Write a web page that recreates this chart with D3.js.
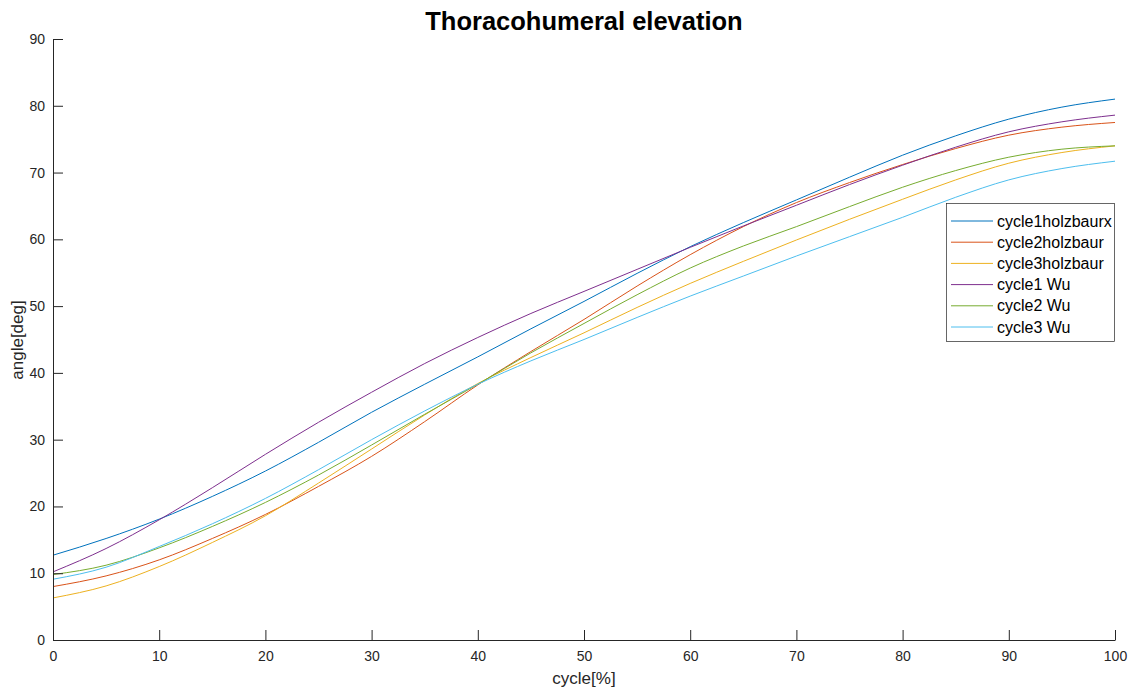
<!DOCTYPE html>
<html>
<head>
<meta charset="utf-8">
<script src="https://cdn.jsdelivr.net/npm/d3@7"></script>
<style>
  body { margin: 0; background: #fff; }
  svg { display: block; font-family: "Liberation Sans", Arial, sans-serif; }
</style>
</head>
<body>
<svg id="chart" width="1133" height="691"></svg>
<script>
const cycle = [0,5,10,15,20,25,30,35,40,45,50,55,60,65,70,75,80,85,90,95,100];
const seriesNames = ["cycle1holzbaurx","cycle2holzbaur","cycle3holzbaur","cycle1 Wu","cycle2 Wu","cycle3 Wu"];
const seriesColors = ["#0072BD","#D95319","#EDB120","#7E2F8E","#77AC30","#4DBEEE"];
const cycle1holzbaurx = [12.7,15.2,18.1,21.5,25.3,29.6,34.1,38.3,42.4,46.6,50.7,54.9,58.9,62.5,65.9,69.3,72.6,75.5,78.0,79.8,81.0];
const cycle2holzbaur  = [8.0,9.6,12.0,15.2,18.8,23.0,27.5,32.7,38.2,43.2,48.0,53.0,57.7,61.9,65.5,68.5,71.2,73.6,75.6,76.8,77.5];
const cycle3holzbaur  = [6.3,8.1,11.0,14.6,18.6,23.5,28.6,33.7,38.4,42.3,46.0,49.8,53.4,56.7,59.9,63.0,66.0,68.9,71.4,73.0,74.0];
const cycle1Wu        = [10.2,13.7,18.0,22.8,27.8,32.6,37.1,41.4,45.3,48.9,52.2,55.5,58.8,62.0,65.1,68.2,71.1,73.8,76.1,77.6,78.6];
const cycle2Wu        = [9.8,11.2,13.8,17.0,20.6,24.7,29.2,33.8,38.3,43.0,47.4,51.7,55.7,59.0,61.9,64.9,67.8,70.3,72.3,73.5,74.0];
const cycle3Wu        = [9.1,10.9,14.0,17.4,21.2,25.5,30.0,34.3,38.3,41.8,45.0,48.3,51.5,54.5,57.5,60.4,63.3,66.3,68.9,70.6,71.7];
const xTicks = [0,10,20,30,40,50,60,70,80,90,100];
const yTicks = [0,10,20,30,40,50,60,70,80,90];

const allSeries = [cycle1holzbaurx, cycle2holzbaur, cycle3holzbaur, cycle1Wu, cycle2Wu, cycle3Wu];

const svg = d3.select("#chart");
const padL = 53, padR = 1115, padT = 39, padB = 640;
const x = d3.scaleLinear().domain([0,100]).range([padL,padR]);
const y = d3.scaleLinear().domain([0,90]).range([padB,padT]);
const axisColor = "#262626";

// lines
const line = d3.line().x((d,i)=>x(cycle[i])).y(d=>y(d)).curve(d3.curveMonotoneX);
svg.append("g").selectAll("path").data(allSeries).join("path")
  .attr("d", d=>line(d)).attr("fill","none")
  .attr("stroke",(d,i)=>seriesColors[i]).attr("stroke-width",1);

// axes
const xAxis = svg.append("g").attr("transform",`translate(0,${padB})`)
  .call(d3.axisBottom(x).tickValues(xTicks).tickSizeInner(-10).tickSizeOuter(0).tickPadding(8));
const yAxis = svg.append("g").attr("transform",`translate(${padL},0)`)
  .call(d3.axisLeft(y).tickValues(yTicks).tickSizeInner(-10).tickSizeOuter(0).tickPadding(8));
[xAxis,yAxis].forEach(g=>{
  g.select(".domain").attr("stroke",axisColor).attr("stroke-width",1);
  g.selectAll(".tick line").attr("stroke",axisColor).attr("stroke-width",1);
  g.selectAll(".tick text").attr("fill",axisColor).style("font-size","14px")
   .style("font-family","'Liberation Sans', Arial, sans-serif");
});
xAxis.selectAll(".tick text").attr("dy","0.9em");

// title & labels
svg.append("text").attr("x",584).attr("y",30).attr("text-anchor","middle")
  .style("font-size","25.5px").style("font-weight","bold").attr("fill","#000")
  .text("Thoracohumeral elevation");
svg.append("text").attr("x",584).attr("y",684).attr("text-anchor","middle")
  .style("font-size","17px").attr("fill",axisColor).text("cycle[%]");
svg.append("text").attr("transform","translate(23,340) rotate(-90)").attr("text-anchor","middle")
  .style("font-size","17px").attr("fill",axisColor).text("angle[deg]");

// legend
const lg = svg.append("g");
lg.append("rect").attr("x",946.5).attr("y",203.5).attr("width",168).attr("height",138)
  .attr("fill","#fff").attr("stroke","#262626").attr("stroke-width",0.7);
const rowY = i => 221 + i*21.2;
seriesNames.forEach((n,i)=>{
  lg.append("line").attr("x1",951).attr("x2",993).attr("y1",rowY(i)).attr("y2",rowY(i))
    .attr("stroke",seriesColors[i]).attr("stroke-width",1);
  lg.append("text").attr("x",997).attr("y",rowY(i)).attr("dy","0.35em")
    .style("font-size","16px").attr("fill","#000").text(n);
});
</script>
</body>
</html>
